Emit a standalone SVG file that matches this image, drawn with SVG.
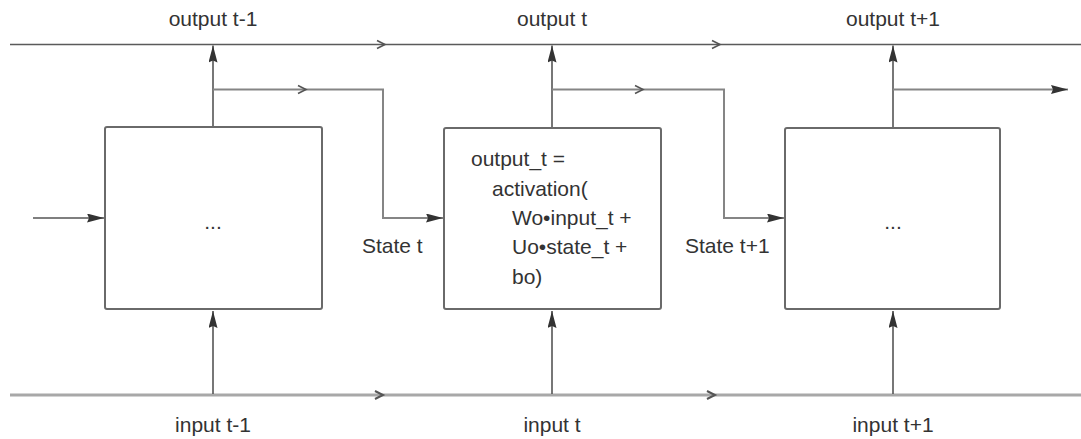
<svg xmlns="http://www.w3.org/2000/svg" xmlns:xlink="http://www.w3.org/1999/xlink" width="1081" height="439" viewBox="0 0 1081 439">
<style>
.txt{font-family:"Liberation Sans",Arial,sans-serif;font-size:21px;fill:#333}
.mid{text-anchor:middle}
.box{fill:#fff;stroke:#6a6a6a;stroke-width:2}
.rail-top{stroke:#5a5a5a;stroke-width:1.6;fill:none}
.rail-bot{stroke:#a8a8a8;stroke-width:3;fill:none}
.vert{stroke:#555;stroke-width:1.6;fill:none}
.branch{stroke:#858585;stroke-width:2;fill:none}
.chev{stroke:#555;stroke-width:1.6;fill:none}
.chevb{stroke:#555;stroke-width:2;fill:none}
</style>
<defs>
<marker id="head" viewBox="0 0 17 9" refX="17" refY="4.5" markerWidth="17" markerHeight="9" markerUnits="userSpaceOnUse" orient="auto">
<path d="M0,0 L17,4.5 L0,9 L2,4.5 z" fill="#333"/>
</marker>
<path id="chv" d="M-8,-4 L0,0 L-8,4"/>
</defs>

<g id="connectors">
<line class="rail-top" x1="10" y1="44.5" x2="1081" y2="44.5"/>
<line class="rail-bot" x1="10" y1="395" x2="1081" y2="395"/>
<use href="#chv" class="chev" x="385" y="44.5"/>
<use href="#chv" class="chev" x="720" y="44.5"/>
<use href="#chv" class="chevb" x="383" y="395"/>
<use href="#chv" class="chevb" x="715" y="395"/>

<line class="vert" x1="213" y1="127" x2="213" y2="45.5" marker-end="url(#head)"/>
<line class="vert" x1="552" y1="128" x2="552" y2="45.5" marker-end="url(#head)"/>
<line class="vert" x1="893" y1="128" x2="893" y2="45.5" marker-end="url(#head)"/>

<line class="vert" x1="213" y1="394" x2="213" y2="311" marker-end="url(#head)"/>
<line class="vert" x1="552" y1="394" x2="552" y2="311" marker-end="url(#head)"/>
<line class="vert" x1="893" y1="394" x2="893" y2="311" marker-end="url(#head)"/>

<polyline class="branch" points="213,89.5 383,89.5 383,218 443,218" marker-end="url(#head)"/>
<polyline class="branch" points="552,89.5 724,89.5 724,218 784,218" marker-end="url(#head)"/>
<line class="branch" x1="893" y1="89.5" x2="1068" y2="89.5" marker-end="url(#head)"/>
<use href="#chv" class="chev" x="306" y="89.5"/>
<use href="#chv" class="chev" x="643" y="89.5"/>

<line class="vert" x1="33" y1="218" x2="104" y2="218" marker-end="url(#head)"/>
</g>

<g id="cell1">
<rect class="box" x="105" y="127" width="217" height="182" rx="2"/>
<text class="txt mid" x="213" y="229">...</text>
</g>
<g id="cell2">
<rect class="box" x="444" y="128" width="217" height="181" rx="2"/>
<text class="txt" x="471" y="166">output_t =</text>
<text class="txt" x="492" y="195.5">activation(</text>
<text class="txt" x="512" y="225">Wo•input_t +</text>
<text class="txt" x="512" y="254">Uo•state_t +</text>
<text class="txt" x="512" y="283.5">bo)</text>
</g>
<g id="cell3">
<rect class="box" x="785" y="128" width="215" height="181" rx="2"/>
<text class="txt mid" x="893" y="229">...</text>
</g>

<g id="labels">
<text class="txt mid" x="213" y="26">output t-1</text>
<text class="txt mid" x="552" y="26">output t</text>
<text class="txt mid" x="893" y="26">output t+1</text>
<text class="txt mid" x="213" y="432">input t-1</text>
<text class="txt mid" x="552" y="432">input t</text>
<text class="txt mid" x="893" y="432">input t+1</text>
<text class="txt" x="362" y="253">State t</text>
<text class="txt" x="685" y="253">State t+1</text>
</g>
</svg>
